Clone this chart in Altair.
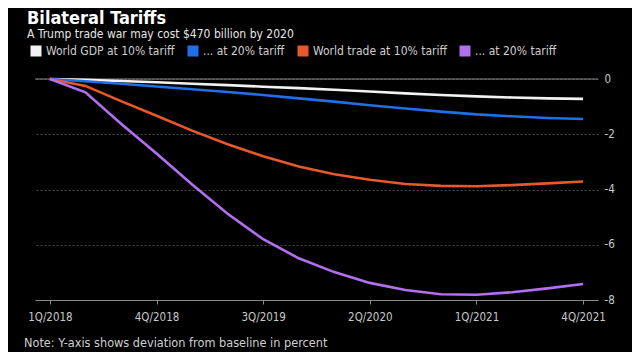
import altair as alt
import pandas as pd

quarters = ["1Q/2018", "2Q/2018", "3Q/2018", "4Q/2018",
            "1Q/2019", "2Q/2019", "3Q/2019", "4Q/2019",
            "1Q/2020", "2Q/2020", "3Q/2020", "4Q/2020",
            "1Q/2021", "2Q/2021", "3Q/2021", "4Q/2021"]
series_names = ["World GDP at 10% tariff", "... at 20% tariff ",
                "World trade at 10% tariff", "... at 20% tariff"]
gdp10 = [0, -0.03, -0.07, -0.12, -0.17, -0.22, -0.28, -0.33,
         -0.39, -0.45, -0.52, -0.58, -0.63, -0.67, -0.70, -0.72]
gdp20 = [0, -0.08, -0.17, -0.27, -0.37, -0.47, -0.58, -0.70,
         -0.82, -0.95, -1.07, -1.18, -1.28, -1.35, -1.41, -1.45]
trade10 = [0, -0.25, -0.80, -1.33, -1.87, -2.36, -2.80, -3.17,
           -3.45, -3.65, -3.80, -3.87, -3.88, -3.84, -3.78, -3.71]
trade20 = [0, -0.48, -1.62, -2.70, -3.82, -4.88, -5.80, -6.49,
           -6.99, -7.38, -7.64, -7.79, -7.81, -7.72, -7.58, -7.42]
colors = ["#f2f2f2", "#1f6fe6", "#e8582a", "#b26ff0"]
x_labels = ["1Q/2018", "4Q/2018", "3Q/2019", "2Q/2020", "1Q/2021", "4Q/2021"]
y_grid = [-8, -7, -6, -5, -4, -3, -2, -1, 0]

title = "Bilateral Tariffs"
subtitle = "A Trump trade war may cost $470 billion by 2020"
note = "Note: Y-axis shows deviation from baseline in percent"

FONT = "Liberation Sans Narrow, DejaVu Sans Condensed, Liberation Sans, sans-serif"

rows = []
for name, vals in zip(series_names, [gdp10, gdp20, trade10, trade20]):
    for q, v in zip(quarters, vals):
        rows.append({"quarter": q, "value": v, "series": name})
df = pd.DataFrame(rows)

xscale = alt.Scale(type="point", domain=quarters, padding=0.42)
yscale = alt.Scale(domain=[-8, 0], nice=False, zero=False)

x_enc = alt.X("quarter:O", scale=xscale, sort=quarters, title=None,
              axis=alt.Axis(values=x_labels, labelAngle=0, labelColor="#c8c8c8",
                            labelFontSize=11.5, labelFont=FONT, domainColor="#8a8a8a",
                            tickColor="#8a8a8a", tickSize=4, labelPadding=7,
                            grid=False))
y_enc = alt.Y("value:Q", scale=yscale, title=None,
              axis=alt.Axis(orient="right", values=y_grid, domain=False, ticks=False,
                            labelExpr="datum.value % 2 == 0 ? '' + datum.value : ''",
                            labelColor="#c8c8c8", labelFontSize=11.5, labelFont=FONT,
                            labelPadding=6, gridColor="#4a4a4a", gridDash=[2, 2],
                            gridWidth=1))

lines = alt.Chart(df).mark_line(strokeWidth=2.6).encode(
    x=x_enc, y=y_enc,
    stroke=alt.Stroke("series:N", sort=series_names,
                      scale=alt.Scale(domain=series_names, range=colors), legend=None),
    detail="series:N",
)

legend_layer = alt.Chart(df).transform_filter("false").mark_point(
    shape="square", filled=True).encode(
    fill=alt.Fill("series:N",
                  scale=alt.Scale(domain=series_names, range=colors),
                  legend=alt.Legend(orient="none", legendX=-5, legendY=-34,
                                    direction="horizontal", title=None,
                                    symbolType="square", symbolSize=121,
                                    symbolStrokeWidth=0, symbolOpacity=1,
                                    labelColor="#cfcfcf", labelFontSize=12,
                                    labelFont=FONT, labelOffset=4,
                                    labelLimit=300, columnPadding=12)),
)

zero_line = alt.Chart(pd.DataFrame({"v": [0]})).mark_rule(
    color="#8a8a8a", strokeWidth=1).encode(y=alt.Y("v:Q", scale=yscale))

title_t = alt.Chart(pd.DataFrame({"t": [title]})).mark_text(
    align="left", baseline="alphabetic", font=FONT, fontSize=18,
    fontWeight="bold", color="#ffffff").encode(
    x=alt.value(-8), y=alt.value(-55), text="t:N")
sub_t = alt.Chart(pd.DataFrame({"t": [subtitle]})).mark_text(
    align="left", baseline="alphabetic", font=FONT, fontSize=12,
    color="#e6e6e6").encode(
    x=alt.value(-8), y=alt.value(-41), text="t:N")
note_t = alt.Chart(pd.DataFrame({"t": [note]})).mark_text(
    align="left", baseline="alphabetic", font=FONT, fontSize=12.6,
    color="#cfcfcf").encode(
    x=alt.value(-11), y=alt.value(268), text="t:N")

chart = alt.layer(zero_line, lines, legend_layer, title_t, sub_t, note_t).resolve_legend(
    stroke="independent", fill="independent"
).properties(
    width=563, height=221,
    autosize=alt.AutoSizeParams(type="none"),
    padding={"left": 27, "top": 71, "right": 34, "bottom": 52},
    background="#000000",
).configure_view(stroke=None)

chart.save("out.html", embed_options={"renderer": "svg", "actions": False})
